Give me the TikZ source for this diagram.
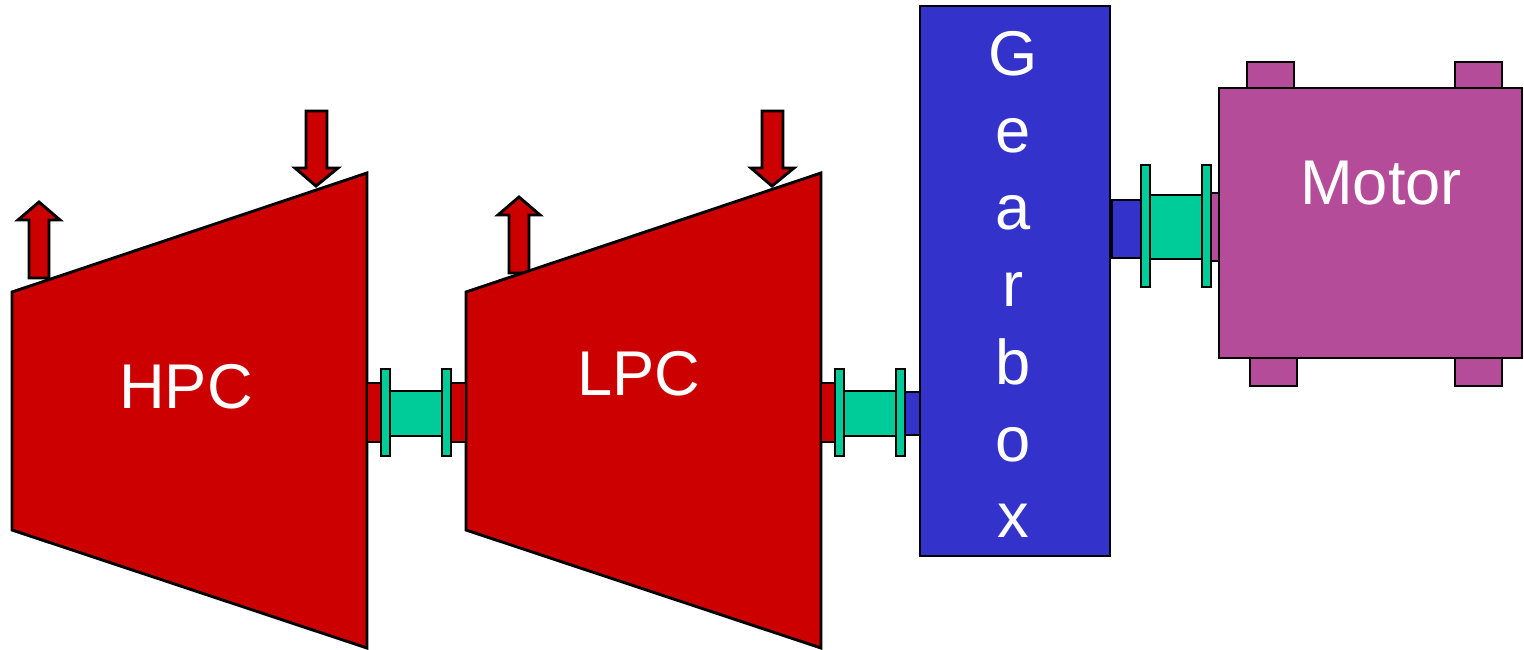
\documentclass[tikz,border=0pt]{standalone}
\usepackage{fontspec}
\setmainfont{Liberation Sans}
\definecolor{turbred}{HTML}{CC0000}
\definecolor{shaftgreen}{HTML}{00CC99}
\definecolor{gearblue}{HTML}{3333CC}
\definecolor{motorpurple}{HTML}{B54C99}
\begin{document}
\begin{tikzpicture}[x=0.02cm,y=-0.02cm,line join=miter,
		part/.style={draw=black,line width=1.65pt},
		redpart/.style={part,fill=turbred},
		greenpart/.style={part,fill=shaftgreen},
		bluepart/.style={part,fill=gearblue},
		purplepart/.style={part,fill=motorpurple},
		label/.style={text=white,anchor=base,inner sep=0pt,font=\fontsize{36}{36}\selectfont}]
		\useasboundingbox (0,0) rectangle (1524,649);
		
		% Pfeile
		\draw[redpart] (29,278) -- (29,220) -- (18,220) -- (39,202) -- (60,220) -- (49,220) -- (49,278) -- cycle;
		\draw[redpart] (306,111) -- (327,111) -- (327,168) -- (338,168) -- (316,186) -- (295,168) -- (306,168) -- cycle;
		\draw[redpart] (509,273) -- (509,215) -- (498,215) -- (519,197) -- (540,215) -- (529,215) -- (529,273) -- cycle;
		\draw[redpart] (762,111) -- (783,111) -- (783,168) -- (794,168) -- (772,186) -- (751,168) -- (762,168) -- cycle;
		
		% Verdichter
		\draw[redpart] (12,292) -- (367,173) -- (367,648) -- (12,530) -- cycle;
		\draw[redpart] (466,292) -- (821,173) -- (821,648) -- (466,530) -- cycle;
		\node[label] (hpc) at (186,408) {HPC};
		\node[label] (lpc) at (639,395) {LPC};
		
		% Kupplung 1
		\draw[redpart] (367,383) rectangle (381,442);
		\draw[redpart] (451,383) rectangle (466,442);
		\draw[greenpart] (390,391) rectangle (442,436);
		\draw[greenpart] (381,369) rectangle (390,456);
		\draw[greenpart] (442,369) rectangle (451,456);
		
		% Kupplung 2
		\draw[redpart] (821,383) rectangle (835,442);
		\draw[bluepart] (905,392) rectangle (920,435);
		\draw[greenpart] (844,391) rectangle (896,436);
		\draw[greenpart] (835,369) rectangle (844,456);
		\draw[greenpart] (896,369) rectangle (905,456);
		
		% Getriebe
		\draw[bluepart] (920,6) rectangle (1110,556);
		\node[label] (g1) at (1013,75) {G};
		\node[label] (g2) at (1013,152) {e};
		\node[label] (g3) at (1013,229) {a};
		\node[label] (g4) at (1013,306) {r};
		\node[label] (g5) at (1013,384) {b};
		\node[label] (g6) at (1013,461) {o};
		\node[label] (g7) at (1013,537) {x};
		
		% Kupplung 3
		\draw[bluepart] (1112,200) rectangle (1141,258);
		\draw[purplepart] (1211,193) rectangle (1219,261);
		\draw[greenpart] (1150,195) rectangle (1202,259);
		\draw[greenpart] (1141,165) rectangle (1150,287);
		\draw[greenpart] (1202,165) rectangle (1211,287);
		
		% Motor
		\draw[purplepart] (1247,62) rectangle (1294,88);
		\draw[purplepart] (1455,62) rectangle (1502,88);
		\draw[purplepart] (1250,358) rectangle (1297,386);
		\draw[purplepart] (1455,358) rectangle (1502,386);
		\draw[purplepart] (1219,88) rectangle (1522,358);
		\node[label] (motor) at (1381,204) {Motor};
	\end{tikzpicture}
\end{document}
